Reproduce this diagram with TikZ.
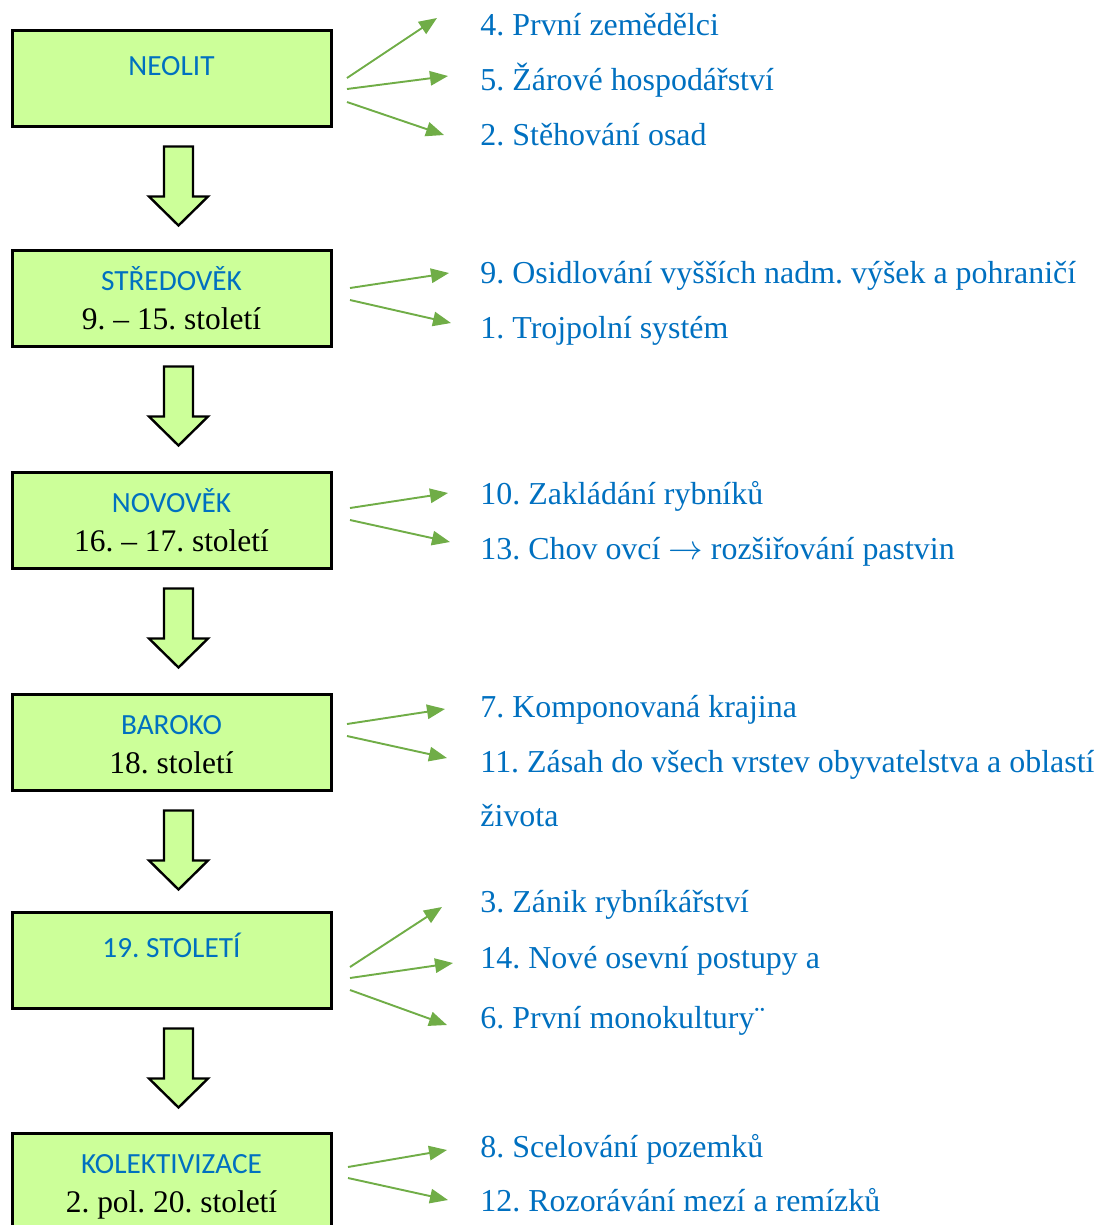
\documentclass[tikz,border=0pt]{standalone}
\usepackage{fontspec}
\usepackage{xcolor}
\setmainfont{Liberation Serif}
\newfontfamily\boxfont{Carlito}
\usetikzlibrary{arrows.meta}
\definecolor{periodfill}{HTML}{CCFF99}
\definecolor{itemblue}{HTML}{0070C0}
\definecolor{linkgreen}{HTML}{70AD47}
\newcommand{\PX}{0.41667pt}
\newcommand{\BoxW}{319}
\newcommand{\BoxH}{96}
\frenchspacing
\tikzset{
  period/.style={draw=black, line width=1.25pt, fill=periodfill, inner sep=0pt,
    minimum width=\BoxW*\PX, minimum height=\BoxH*\PX},
  periodname/.style={font=\boxfont\fontsize{12.2}{14}\selectfont, text=itemblue, anchor=base, inner sep=0pt},
  perioddate/.style={font=\fontsize{13.1}{15}\selectfont, anchor=base, inner sep=0pt},
  item/.style={font=\fontsize{13.3}{15}\selectfont, text=itemblue, anchor=base west, inner sep=0pt},
  link/.style={draw=linkgreen, line width=0.8pt, -{Triangle[length=7.5pt,width=6pt]}},
  downarrow/.style={draw=black, line width=1pt, fill=periodfill, line join=miter}
}

\begin{document}
\begin{tikzpicture}[x=\PX,y=-\PX]
\useasboundingbox (0,0) rectangle (1102,1225);

\node[period] (neolit) at (171.5,78) {};
\node[period] (stredovek) at (171.5,298) {};
\node[period] (novovek) at (171.5,520) {};
\node[period] (baroko) at (171.5,742) {};
\node[period] (stoleti) at (171.5,960) {};
\node[period] (kolekt) at (171.5,1181) {};

\node[periodname] (neolitN) at (171.5,75) {NEOLIT};
\node[periodname] (stredovekN) at (171.5,290) {STŘEDOVĚK};
\node[perioddate] (stredovekD) at (171.5,329) {9. – 15. století};
\node[periodname] (novovekN) at (171.5,512) {NOVOVĚK};
\node[perioddate] (novovekD) at (171.5,551) {16. – 17. století};
\node[periodname] (barokoN) at (171.5,734) {BAROKO};
\node[perioddate] (barokoD) at (171.5,773) {18. století};
\node[periodname] (stoletiN) at (171.5,957) {19. STOLETÍ};
\node[periodname] (kolektN) at (171.5,1173) {KOLEKTIVIZACE};
\node[perioddate] (kolektD) at (171.5,1212) {2. pol. 20. století};

% block arrows between the periods
\foreach \a in {neolit,stredovek,novovek,baroko,stoleti}{
  \draw[downarrow,shift={(\a.south)}] (-7.5,19) -- (21.5,19) -- (21.5,69) -- (36.5,69)
    -- (7,98) -- (-22.5,69) -- (-7.5,69) -- cycle;
}

\node[item] (p4) at (480,35) {4. První zemědělci};
\node[item] (p5) at (480,90) {5. Žárové hospodářství};
\node[item] (p2) at (480,145) {2. Stěhování osad};
\node[item] (p9) at (480,283) {9. Osidlování vyšších nadm. výšek a pohraničí};
\node[item] (p1) at (480,338) {1. Trojpolní systém};
\node[item] (p10) at (480,504) {10. Zakládání rybníků};
\node[item] (p13) at (480,559) {13. Chov ovcí $\rightarrow$ rozšiřování pastvin};
\node[item] (p7) at (480,717) {7. Komponovaná krajina};
\node[item] (p11) at (480,772) {11. Zásah do všech vrstev obyvatelstva a oblastí};
\node[item] (p11b) at (480,826) {života};
\node[item] (p3) at (480,912) {3. Zánik rybníkářství};
\node[item] (p14) at (480,968) {14. Nové osevní postupy a};
\node[item] (p6) at (480,1028) {6. První monokultury¨};
\node[item] (p8) at (480,1157) {8. Scelování pozemků};
\node[item] (p12) at (480,1211) {12. Rozorávání mezí a remízků};

\coordinate (n1) at (347,78);   \coordinate (n1t) at (437,18);
\coordinate (n2) at (347,89);   \coordinate (n2t) at (448,76);
\coordinate (n3) at (347,102);  \coordinate (n3t) at (444,135);
\coordinate (s1) at (350,288);  \coordinate (s1t) at (449,273);
\coordinate (s2) at (350,300);  \coordinate (s2t) at (451,323);
\coordinate (v1) at (350,508);  \coordinate (v1t) at (448,493);
\coordinate (v2) at (350,520);  \coordinate (v2t) at (450,542);
\coordinate (b1) at (347,724);  \coordinate (b1t) at (445,709);
\coordinate (b2) at (347,736);  \coordinate (b2t) at (447,758);
\coordinate (t1) at (350,967);  \coordinate (t1t) at (442,907);
\coordinate (t2) at (350,978);  \coordinate (t2t) at (453,963);
\coordinate (t3) at (350,990);  \coordinate (t3t) at (447,1025);
\coordinate (k1) at (348,1167); \coordinate (k1t) at (447,1150);
\coordinate (k2) at (348,1178); \coordinate (k2t) at (448,1200);

\draw[link] (n1) -- (n1t);
\draw[link] (n2) -- (n2t);
\draw[link] (n3) -- (n3t);
\draw[link] (s1) -- (s1t);
\draw[link] (s2) -- (s2t);
\draw[link] (v1) -- (v1t);
\draw[link] (v2) -- (v2t);
\draw[link] (b1) -- (b1t);
\draw[link] (b2) -- (b2t);
\draw[link] (t1) -- (t1t);
\draw[link] (t2) -- (t2t);
\draw[link] (t3) -- (t3t);
\draw[link] (k1) -- (k1t);
\draw[link] (k2) -- (k2t);
\end{tikzpicture}
\end{document}
